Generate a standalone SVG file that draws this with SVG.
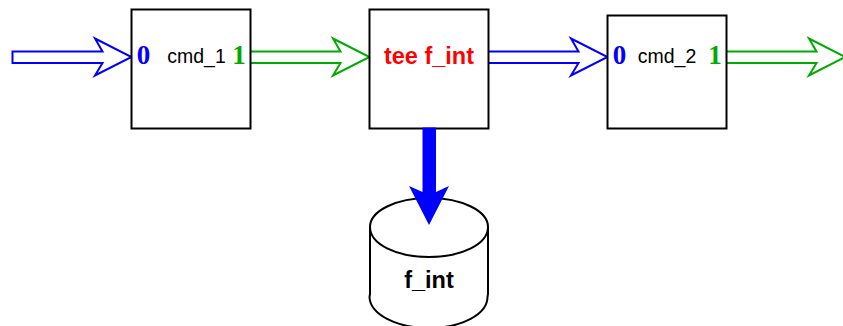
<svg xmlns="http://www.w3.org/2000/svg" width="843" height="326" viewBox="0 0 843 326">
<style>
.box{fill:#fff;stroke:#000;stroke-width:2}
.lbl{font-family:"Liberation Sans",Arial,sans-serif;font-size:19.500px;fill:#000;text-anchor:middle}
.b{font-weight:bold;font-size:23.500px}
.port{font-family:"Liberation Serif","Times New Roman",serif;font-size:27px;font-weight:bold;text-anchor:middle}
.in{fill:#00f}.out{fill:#0a0}
.ar{fill:#fff;stroke-width:2;stroke-miterlimit:10}
.blue{stroke:#00f}.green{stroke:#0a0}
</style>
<g id="connectors">
<path class="ar blue" d="M12.500 51.500H102.500L95 38.500 131.500 57 95 75.500 102.500 63H12.500Z"/>
<path class="ar green" d="M250 51.500H340.500L333 38.500 369.500 57 333 75.500 340.500 63H250Z"/>
<path class="ar blue" d="M488 51.500H578.500L571 38.500 607.500 57 571 75.500 578.500 63H488Z"/>
<path class="ar green" d="M726 51.500H816.500L809 38.500 845 57 809 75.500 816.500 63H726Z"/>
</g>
<g id="cmd_1"><rect class="box" x="131.500" y="9.500" width="119" height="119"/><text class="lbl" x="196.500" y="63">cmd_1</text><text class="port in" x="143.500" y="64">0</text><text class="port out" x="239" y="64">1</text></g>
<g id="tee"><rect class="box" x="369.500" y="9.500" width="119" height="119"/><text class="lbl b" x="429" y="64" style="fill:#f00">tee f_int</text></g>
<g id="cmd_2"><rect class="box" x="607.500" y="15.500" width="119" height="113"/><text class="lbl" x="667" y="63">cmd_2</text><text class="port in" x="619.500" y="64">0</text><text class="port out" x="715" y="64">1</text></g>
<g id="f_int">
<path fill="#fff" stroke="#000" stroke-width="2" d="M370 227C370 211 396 198 429 198S488 211 488 227V294L487.500 297C487.500 314 462 328 429 328S370 314 369.500 297L370 294Z"/>
<path fill="none" stroke="#000" stroke-width="2" d="M370 227C370 244 396 257 429 257S488 244 488 227"/>
<text class="lbl b" x="429" y="288">f_int</text>
</g>
<g id="connector-tee-f_int"><path fill="#00f" d="M422.500 127.500H436V192L449 186 429 225 409 186 422.500 192Z"/></g>
</svg>
